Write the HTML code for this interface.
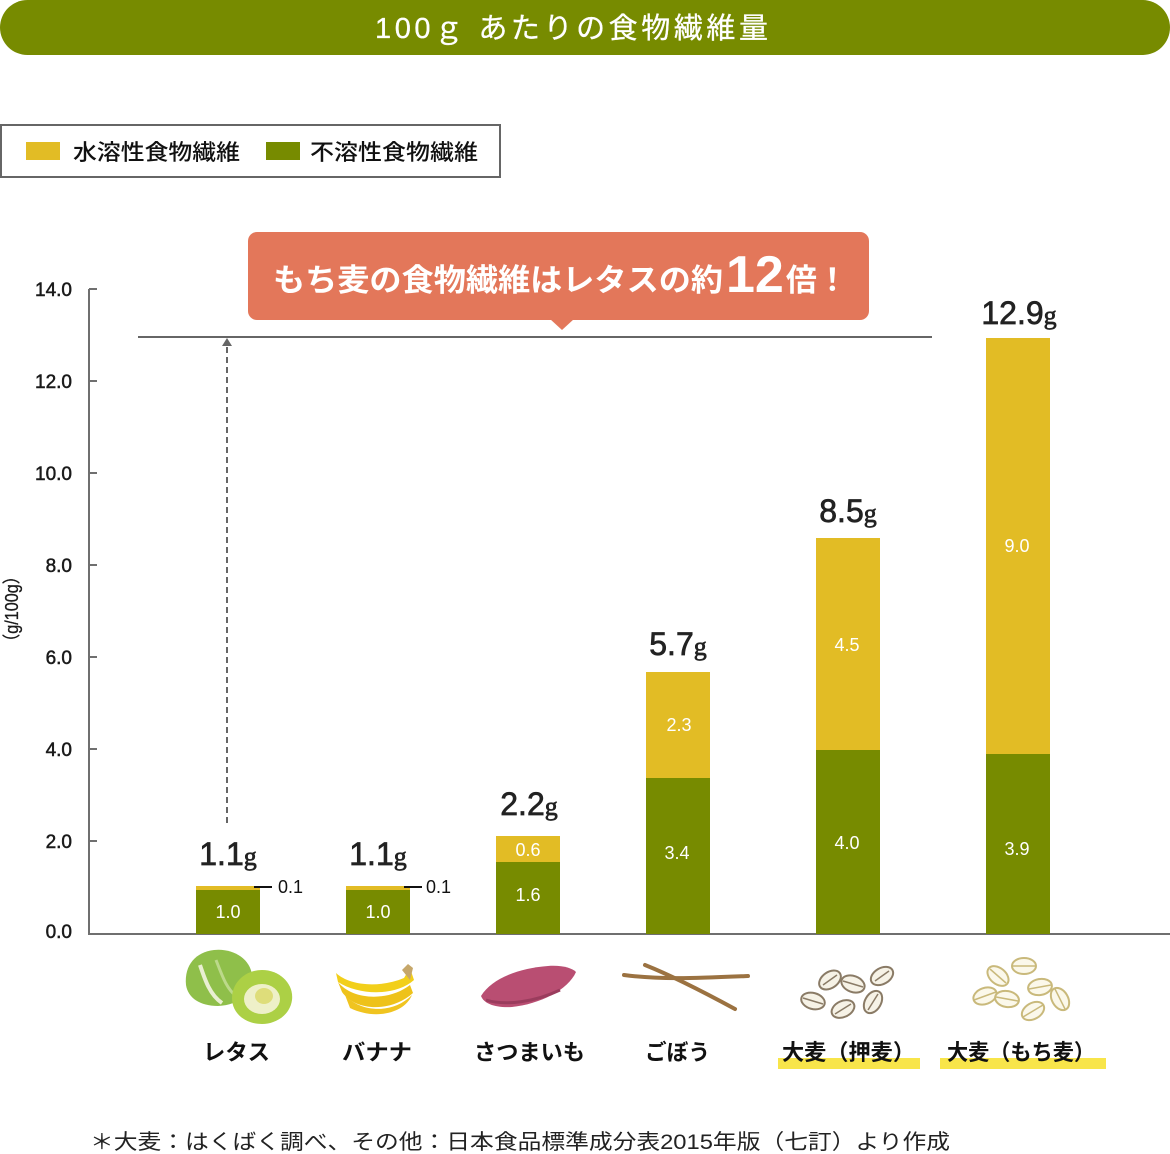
<!DOCTYPE html>
<html><head><meta charset="utf-8">
<style>
html,body{margin:0;padding:0;background:#fff;}
svg{display:block;}
text{font-family:"Liberation Sans","Noto Sans CJK JP",sans-serif;}
</style></head>
<body>
<svg width="1170" height="1154" viewBox="0 0 1170 1154" xmlns="http://www.w3.org/2000/svg">
<!-- title -->
<rect x="0" y="0" width="1170" height="55" rx="27.5" fill="#778b00"/>
<text x="375" y="38" font-size="29" fill="#fff" stroke="#fff" stroke-width="0.3" textLength="393" lengthAdjust="spacing">100ｇ あたりの食物繊維量</text>

<!-- legend -->
<rect x="1" y="125" width="499" height="52" fill="#fff" stroke="#666" stroke-width="2"/>
<rect x="26" y="142" width="34" height="18" fill="#e2bc25"/>
<text x="73" y="160" font-size="22" font-weight="500" fill="#111" textLength="167" lengthAdjust="spacingAndGlyphs">水溶性食物繊維</text>
<rect x="266" y="142" width="34" height="18" fill="#778b00"/>
<text x="310" y="160" font-size="22" font-weight="500" fill="#111" textLength="168" lengthAdjust="spacingAndGlyphs">不溶性食物繊維</text>

<!-- callout -->
<rect x="248" y="232" width="621" height="88" rx="9" fill="#e3775a"/>
<polygon points="550,319 574,319 562,330" fill="#e3775a"/>
<text x="273" y="291" font-size="31" font-weight="bold" fill="#fff">
<tspan textLength="450" lengthAdjust="spacingAndGlyphs">もち麦の食物繊維はレタスの約</tspan><tspan font-size="52" dy="1" dx="3">12</tspan><tspan dy="-1" dx="2">倍！</tspan></text>

<!-- reference line and dashed arrow -->
<line x1="138" y1="337" x2="932" y2="337" stroke="#666" stroke-width="2"/>
<line x1="227" y1="823" x2="227" y2="346" stroke="#666" stroke-width="2" stroke-dasharray="6,4"/>
<polygon points="222,346 232,346 227,338" fill="#666"/>

<!-- y axis -->
<g stroke="#6f6f6f" stroke-width="2">
<line x1="89" y1="289" x2="89" y2="934"/>
<line x1="88" y1="934" x2="1170" y2="934"/>
<line x1="89" y1="289" x2="97" y2="289"/>
<line x1="89" y1="381" x2="97" y2="381"/>
<line x1="89" y1="473" x2="97" y2="473"/>
<line x1="89" y1="565" x2="97" y2="565"/>
<line x1="89" y1="657" x2="97" y2="657"/>
<line x1="89" y1="749" x2="97" y2="749"/>
<line x1="89" y1="841" x2="97" y2="841"/>
</g>
<g font-size="19" fill="#1a1a1a" stroke="#1a1a1a" stroke-width="0.5" text-anchor="end">
<text x="72" y="296">14.0</text>
<text x="72" y="388">12.0</text>
<text x="72" y="480">10.0</text>
<text x="72" y="572">8.0</text>
<text x="72" y="664">6.0</text>
<text x="72" y="756">4.0</text>
<text x="72" y="848">2.0</text>
<text x="72" y="938">0.0</text>
</g>
<text transform="translate(18,609) rotate(-90)" text-anchor="middle" font-size="18" fill="#1a1a1a" stroke="#1a1a1a" stroke-width="0.3" textLength="82" lengthAdjust="spacingAndGlyphs">（g/100g）</text>

<!-- bars -->
<g>
<rect x="196" y="886" width="64" height="4" fill="#e2bc25"/>
<rect x="196" y="890" width="64" height="44" fill="#778b00"/>
<rect x="346" y="886" width="64" height="4" fill="#e2bc25"/>
<rect x="346" y="890" width="64" height="44" fill="#778b00"/>
<rect x="496" y="836" width="64" height="26" fill="#e2bc25"/>
<rect x="496" y="862" width="64" height="72" fill="#778b00"/>
<rect x="646" y="672" width="64" height="106" fill="#e2bc25"/>
<rect x="646" y="778" width="64" height="156" fill="#778b00"/>
<rect x="816" y="538" width="64" height="212" fill="#e2bc25"/>
<rect x="816" y="750" width="64" height="184" fill="#778b00"/>
<rect x="986" y="338" width="64" height="416" fill="#e2bc25"/>
<rect x="986" y="754" width="64" height="180" fill="#778b00"/>
</g>

<!-- inner values -->
<g font-size="18" fill="#fff" text-anchor="middle">
<text x="228" y="918">1.0</text>
<text x="378" y="918">1.0</text>
<text x="528" y="856">0.6</text>
<text x="528" y="901">1.6</text>
<text x="679" y="731">2.3</text>
<text x="677" y="859">3.4</text>
<text x="847" y="651">4.5</text>
<text x="847" y="849">4.0</text>
<text x="1017" y="552">9.0</text>
<text x="1017" y="855">3.9</text>
</g>
<line x1="254" y1="887" x2="272" y2="887" stroke="#111" stroke-width="2"/>
<line x1="404" y1="887" x2="422" y2="887" stroke="#111" stroke-width="2"/>
<g font-size="18" fill="#111">
<text x="278" y="893">0.1</text>
<text x="426" y="893">0.1</text>
</g>

<!-- totals -->
<g fill="#222" stroke="#222" stroke-width="0.7" text-anchor="middle">
<text x="228" y="865"><tspan font-size="32">1.1</tspan><tspan font-size="26" font-family="Liberation Serif, serif">g</tspan></text>
<text x="378" y="865"><tspan font-size="32">1.1</tspan><tspan font-size="26" font-family="Liberation Serif, serif">g</tspan></text>
<text x="529" y="815"><tspan font-size="32">2.2</tspan><tspan font-size="26" font-family="Liberation Serif, serif">g</tspan></text>
<text x="678" y="655"><tspan font-size="32">5.7</tspan><tspan font-size="26" font-family="Liberation Serif, serif">g</tspan></text>
<text x="848" y="522"><tspan font-size="32">8.5</tspan><tspan font-size="26" font-family="Liberation Serif, serif">g</tspan></text>
<text x="1019" y="324"><tspan font-size="32">12.9</tspan><tspan font-size="26" font-family="Liberation Serif, serif">g</tspan></text>
</g>

<!-- icons -->
<!-- lettuce -->
<g>
<path d="M186,985 C184,965 196,952 214,950 C232,948 250,958 252,975 C254,992 240,1005 218,1006 C200,1006 188,998 186,985 Z" fill="#8fbf4a"/>
<path d="M200,965 C205,980 210,995 222,1003" stroke="#e9efd2" stroke-width="4" fill="none"/>
<path d="M216,960 C222,975 226,988 236,996" stroke="#bcd98a" stroke-width="3" fill="none"/>
<path d="M232,998 C232,982 246,970 262,970 C280,970 294,984 292,1000 C290,1015 276,1024 262,1024 C246,1024 232,1014 232,998 Z" fill="#acd045"/>
<ellipse cx="262" cy="999" rx="18" ry="15" fill="#eef0c8"/>
<ellipse cx="264" cy="996" rx="9" ry="8" fill="#dedd7a"/>
</g>
<!-- banana -->
<g>
<path d="M336,973 C350,986 380,988 404,978 L410,968 L414,980 C396,996 360,996 338,982 Z" fill="#f2cf1a"/>
<path d="M338,982 C352,1000 388,1002 410,985 L413,993 C392,1012 356,1012 342,992 Z" fill="#eec21a"/>
<path d="M345,995 C360,1012 392,1015 412,995 C404,1014 374,1020 350,1008 Z" fill="#f0c420"/>
<path d="M402,970 L408,964 L413,968 L410,980 Z" fill="#c6a76a"/>
</g>
<!-- sweet potato -->
<path d="M481,996 C492,978 520,968 548,966 C562,965 572,968 576,972 C568,990 540,1004 512,1007 C496,1008 484,1004 481,996 Z" fill="#b94e72"/>
<path d="M486,1000 C505,1006 535,1002 560,990" stroke="#9a3c5d" stroke-width="3" fill="none"/>
<!-- burdock -->
<g stroke="#9b7241" stroke-linecap="round" fill="none">
<path d="M624,975 C660,980 700,978 748,976" stroke-width="4"/>
<path d="M645,965 C670,975 700,990 735,1009" stroke-width="4"/>
</g>
<!-- oshimugi grains -->
<g fill="#f6f2e6" stroke="#8a7b66" stroke-width="2">
<ellipse cx="830" cy="980" rx="12" ry="8" transform="rotate(-35 830 980)"/>
<ellipse cx="853" cy="984" rx="12" ry="8" transform="rotate(20 853 984)"/>
<ellipse cx="882" cy="976" rx="12" ry="8" transform="rotate(-30 882 976)"/>
<ellipse cx="813" cy="1001" rx="12" ry="8" transform="rotate(15 813 1001)"/>
<ellipse cx="843" cy="1009" rx="12" ry="8" transform="rotate(-25 843 1009)"/>
<ellipse cx="873" cy="1002" rx="12" ry="8" transform="rotate(-60 873 1002)"/>
</g>
<g stroke="#8a7b66" stroke-width="1.5">
<line x1="823" y1="985" x2="837" y2="975"/>
<line x1="843" y1="981" x2="863" y2="987"/>
<line x1="875" y1="981" x2="889" y2="971"/>
<line x1="803" y1="998" x2="823" y2="1004"/>
<line x1="835" y1="1014" x2="851" y2="1004"/>
<line x1="868" y1="1010" x2="878" y2="994"/>
</g>
<!-- mochimugi grains -->
<g fill="#fbf8ea" stroke="#c9b97b" stroke-width="2">
<ellipse cx="1024" cy="966" rx="12" ry="8"/>
<ellipse cx="998" cy="976" rx="12" ry="8" transform="rotate(40 998 976)"/>
<ellipse cx="1040" cy="987" rx="12" ry="8" transform="rotate(-10 1040 987)"/>
<ellipse cx="985" cy="996" rx="12" ry="8" transform="rotate(-20 985 996)"/>
<ellipse cx="1007" cy="999" rx="12" ry="8" transform="rotate(10 1007 999)"/>
<ellipse cx="1060" cy="999" rx="12" ry="8" transform="rotate(60 1060 999)"/>
<ellipse cx="1033" cy="1011" rx="12" ry="8" transform="rotate(-30 1033 1011)"/>
</g>
<g stroke="#c9b97b" stroke-width="1.5">
<line x1="1013" y1="966" x2="1035" y2="966"/>
<line x1="990" y1="969" x2="1006" y2="983"/>
<line x1="1029" y1="989" x2="1051" y2="985"/>
<line x1="974" y1="1000" x2="996" y2="992"/>
<line x1="996" y1="997" x2="1018" y2="1001"/>
<line x1="1055" y1="989" x2="1065" y2="1009"/>
<line x1="1023" y1="1017" x2="1043" y2="1005"/>
</g>

<!-- category labels -->
<rect x="778" y="1058" width="142" height="11" fill="#f8e54a"/>
<rect x="940" y="1058" width="166" height="11" fill="#f8e54a"/>
<g font-size="22" font-weight="bold" fill="#111">
<text x="203" y="1060" textLength="67" lengthAdjust="spacingAndGlyphs">レタス</text>
<text x="342" y="1060" textLength="70" lengthAdjust="spacingAndGlyphs">バナナ</text>
<text x="474" y="1060" textLength="111" lengthAdjust="spacingAndGlyphs">さつまいも</text>
<text x="645" y="1060" textLength="65" lengthAdjust="spacingAndGlyphs">ごぼう</text>
<text x="782" y="1060" textLength="133" lengthAdjust="spacingAndGlyphs">大麦（押麦）</text>
<text x="947" y="1060" textLength="148" lengthAdjust="spacingAndGlyphs">大麦（もち麦）</text>
</g>

<!-- footnote -->
<text x="90" y="1149" font-size="21" fill="#222" textLength="860" lengthAdjust="spacingAndGlyphs">＊大麦：はくばく調べ、その他：日本食品標準成分表2015年版（七訂）より作成</text>
</svg>
</body></html>
